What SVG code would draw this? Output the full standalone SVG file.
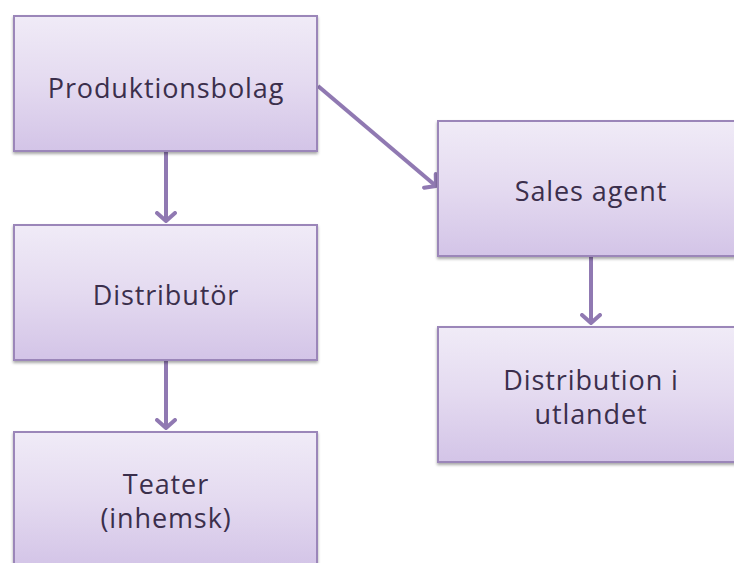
<svg xmlns="http://www.w3.org/2000/svg" width="734" height="563" viewBox="0 0 734 563">
<defs>
<linearGradient id="g" x1="0" y1="0" x2="0" y2="1">
<stop offset="0" stop-color="#f0ebf7"/>
<stop offset="0.5" stop-color="#e4daf0"/>
<stop offset="1" stop-color="#d3c4e7"/>
</linearGradient>
<filter id="sh" x="-5%" y="-5%" width="110%" height="115%">
<feGaussianBlur in="SourceAlpha" stdDeviation="1.5"/>
<feOffset dx="0" dy="2" result="b"/>
<feComponentTransfer><feFuncA type="linear" slope="0.35"/></feComponentTransfer>
<feMerge><feMergeNode/><feMergeNode in="SourceGraphic"/></feMerge>
</filter>
<marker id="ah" markerWidth="20" markerHeight="22" refX="10" refY="11" orient="auto" markerUnits="userSpaceOnUse" viewBox="0 0 20 22">
<path d="M2,2 L10,11 L2,20" fill="none" stroke="#9079b2" stroke-width="4" stroke-linecap="round" stroke-linejoin="round"/>
</marker>
</defs>
<style>
.box{fill:url(#g);stroke:#9b86b9;stroke-width:2;filter:url(#sh)}
.t{font-family:"Open Sans","Noto Sans","Liberation Sans",sans-serif;font-size:27px;letter-spacing:0.9px;fill:#3b2f4c;text-anchor:middle}
.c{stroke:#9079b2;stroke-width:4;fill:none;marker-end:url(#ah)}
</style>
<g id="connectors">
<line class="c" x1="166" y1="151" x2="166" y2="221"/>
<line class="c" x1="166" y1="361" x2="166" y2="428"/>
<line class="c" x1="318" y1="86" x2="436" y2="186"/>
<line class="c" x1="591" y1="257" x2="591" y2="323"/>
</g>
<g id="produktionsbolag">
<rect class="box" x="14" y="16" width="303" height="135"/>
<text class="t" x="166" y="98">Produktionsbolag</text>
</g>
<g id="distributor">
<rect class="box" x="14" y="225" width="303" height="135"/>
<text class="t" x="166" y="305">Distributör</text>
</g>
<g id="teater">
<rect class="box" x="14" y="432" width="303" height="135"/>
<text class="t" x="166" y="494">Teater</text>
<text class="t" x="166" y="528">(inhemsk)</text>
</g>
<g id="sales-agent">
<rect class="box" x="438" y="121" width="303" height="135"/>
<text class="t" x="591" y="201">Sales agent</text>
</g>
<g id="distribution-utlandet">
<rect class="box" x="438" y="327" width="303" height="135"/>
<text class="t" x="591" y="390">Distribution i</text>
<text class="t" x="591" y="424">utlandet</text>
</g>
</svg>
